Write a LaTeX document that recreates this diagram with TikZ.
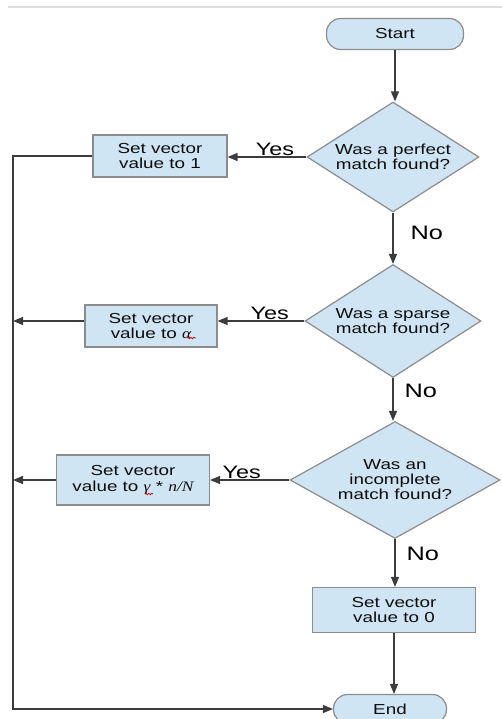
\documentclass[tikz,border=0pt]{standalone}
\usepackage{fontspec}
\setmainfont[FakeStretch=1.3]{Liberation Sans}
\newfontfamily\serifface[FakeStretch=1.2]{Liberation Serif}
\usetikzlibrary{shapes.geometric,arrows.meta,decorations.pathmorphing,calc}
\definecolor{boxfill}{HTML}{CFE5F4}
\definecolor{boxline}{HTML}{8C8C8C}
\definecolor{wire}{HTML}{3C3C3C}
\definecolor{rule}{HTML}{DDDDDD}
\newcommand{\symit}[1]{{\serifface\itshape #1}}
\begin{document}
\begin{tikzpicture}[x=1pt,y=-1pt,
  every node/.style={font=\fontsize{14.5}{15.5}\selectfont, align=center, text=black!95},
  proc/.style={draw=boxline, fill=boxfill, line width=1.2pt, inner sep=0pt},
  term/.style={proc, rounded corners=14pt},
  decision/.style={proc, diamond, aspect=1.6, font=\fontsize{14.5}{15}\selectfont},
  flow/.style={draw=wire, line width=1.3pt, -{Triangle[length=10pt,width=8pt]}},
  wireline/.style={draw=wire, line width=1.3pt},
  answer/.style={font=\fontsize{18}{20}\selectfont, text=black, inner sep=1pt},
  noanswer/.style={answer, font=\fontsize{19.5}{21}\selectfont},
  spell/.style={draw=red!85!black, line width=0.7pt, decorate,
    decoration={snake, amplitude=0.8pt, segment length=3pt}}]
\useasboundingbox (0,0) rectangle (502,719);
\clip (0,0) rectangle (502,719);

% header rule
\draw[rule, line width=1.5pt] (8,7) -- (502,7);

% terminals, decisions and actions
\node[term, minimum width=137pt, minimum height=31pt] (start) at (395,34) {Start};
\node[decision, minimum width=172pt, minimum height=110pt] (d1) at (393,157) {Was a perfect\\match found?};
\node[decision, minimum width=176pt, minimum height=113pt] (d2) at (393,321) {Was a sparse\\match found?};
\node[decision, minimum width=210pt, minimum height=117pt] (d3) at (395,480) {Was an\\incomplete\\match found?};
\node[proc, minimum width=134pt, minimum height=42pt] (b1) at (160,156) {Set vector\\value to 1};
\node[proc, minimum width=132pt, minimum height=42pt] (b2) at (151,326) {Set vector\\value to \symit{α}};
\node[proc, minimum width=153pt, minimum height=50pt] (b3) at (133,480) {Set vector\\value to \symit{γ} * \symit{n/N}};
\node[proc, minimum width=163pt, minimum height=45pt] (b4) at (394,610) {Set vector\\value to 0};
\node[term, minimum width=113pt, minimum height=29pt] (end) at (390,709) {End};

% left return rail
\coordinate (rail) at (13,0);
\coordinate (railend) at (13,709);

% main column
\draw[flow] (start) -- (start |- d1.north);
\draw[flow] (d1.south) -- (d1.south |- d2.north) node[noanswer, right, midway, xshift=16pt, yshift=5pt] {No};
\draw[flow] (d2.south) -- (d2.south |- d3.north) node[noanswer, right, pos=0.3, xshift=10pt] {No};
\draw[flow] (d3.south) -- (d3.south |- b4.north) node[noanswer, right, pos=0.3, xshift=10pt] {No};
\draw[flow] (b4.south) -- (b4.south |- end.north);

% yes branches
\draw[flow] (d1.west) -- (d1.west -| b1.east) node[answer, above, pos=0.4] {Yes};
\draw[flow] (d2.west) -- (d2.west -| b2.east) node[answer, above, pos=0.4] {Yes};
\draw[flow] (d3.west) -- (d3.west -| b3.east) node[answer, above, pos=0.6] {Yes};

% back to the end terminal
\draw[flow] (b1.west) -| (railend) -- (end.west);
\draw[flow] (b2.west |- d2.west) -- (d2.west -| rail);
\draw[flow] (b3.west) -- (b3.west -| rail);

% spelling marks under the symbols
\draw[spell] ($(b2.center)+(36,12)$) -- ++(9,0);
\draw[spell] ($(b3.center)+(12,14)$) -- ++(8,0);
\end{tikzpicture}
\end{document}
